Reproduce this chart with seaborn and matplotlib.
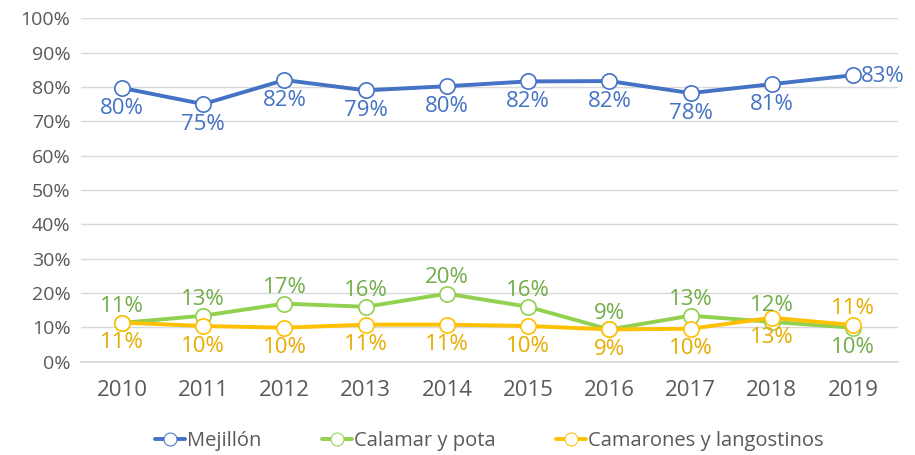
import seaborn as sns
import pandas as pd
import matplotlib.pyplot as plt
import matplotlib.ticker as mticker

YEARS = [str(y) for y in range(2010, 2020)]
MEJILLON = [79.7, 75.0, 82.0, 79.0, 80.2, 81.6, 81.7, 78.2, 80.8, 83.4]
CALAMAR = [11.3, 13.4, 16.9, 16.0, 19.8, 16.0, 9.4, 13.4, 11.6, 9.9]
CAMARONES = [11.4, 10.4, 9.9, 10.8, 10.8, 10.4, 9.4, 9.6, 12.8, 10.7]

SERIES = ["Mejillón", "Calamar y pota", "Camarones y langostinos"]
LINE_COLORS = ["#4472C4", "#92D050", "#FFC000"]
LABEL_COLORS = ["#4472C4", "#70AD47", "#E6AC00"]
# where each data label goes: "below", "above" or "right"
PLACES = {
    "Mejillón": ["below"] * 9 + ["right"],
    "Calamar y pota": ["above"] * 9 + ["below"],
    "Camarones y langostinos": ["below"] * 9 + ["above"],
}

df = pd.DataFrame({"Año": YEARS * 3,
                   "Valor": MEJILLON + CALAMAR + CAMARONES,
                   "Serie": [s for s in SERIES for _ in YEARS]})

sns.set_theme(style="white")
plt.rcParams["font.family"] = ["Open Sans", "DejaVu Sans"]

fig, ax = plt.subplots(figsize=(9.15, 4.55), dpi=100)
fig.subplots_adjust(left=0.089, right=0.981, top=0.96, bottom=0.205)

sns.lineplot(data=df, x="Año", y="Valor", hue="Serie", palette=LINE_COLORS,
             marker="o", markersize=11, markerfacecolor="white", linewidth=2.8,
             ax=ax, sort=False)
for line, c in zip(ax.lines, LINE_COLORS):
    line.set_markeredgecolor(c)
    line.set_markeredgewidth(1.2)

for serie, vals, lc in zip(SERIES, [MEJILLON, CALAMAR, CAMARONES], LABEL_COLORS):
    for i, v in enumerate(vals):
        place = PLACES[serie][i]
        if place == "right":
            ha, va, off = "left", "center", (6, -1)
        elif place == "above":
            ha, va, off = "center", "bottom", (0, 4)
        else:
            ha, va, off = "center", "top", (0, -7)
        ax.annotate(f"{round(v)}%", (i, v), xytext=off, textcoords="offset points",
                    ha=ha, va=va, color=lc, fontsize=16)

ax.set_ylim(0, 100)
ax.set_xlim(-0.5, 9.55)
ax.yaxis.set_major_locator(mticker.MultipleLocator(10))
ax.yaxis.set_major_formatter(mticker.FuncFormatter(lambda v, p: f"{v:.0f}%"))
ax.grid(axis="y", color="#D9D9D9", linewidth=1)
ax.set_axisbelow(True)
for s in ["top", "right", "left"]:
    ax.spines[s].set_visible(False)
ax.spines["bottom"].set_color("#D9D9D9")
ax.tick_params(axis="both", colors="#595959", length=0)
ax.tick_params(axis="y", labelsize=14, pad=8)
ax.tick_params(axis="x", labelsize=16, pad=13)
ax.set_xlabel("")
ax.set_ylabel("")

handles, labels = ax.get_legend_handles_labels()
leg = ax.legend(handles, labels, loc="upper center", bbox_to_anchor=(0.5, -0.15),
                ncol=3, frameon=False, fontsize=14.5, handlelength=1.5,
                handletextpad=0.1, columnspacing=3.0, labelcolor="#595959",
                markerscale=0.85)
for h, c in zip(leg.legend_handles, LINE_COLORS):
    h.set_markerfacecolor("white")
    h.set_markeredgecolor(c)

fig.savefig("out.png", dpi=100)
